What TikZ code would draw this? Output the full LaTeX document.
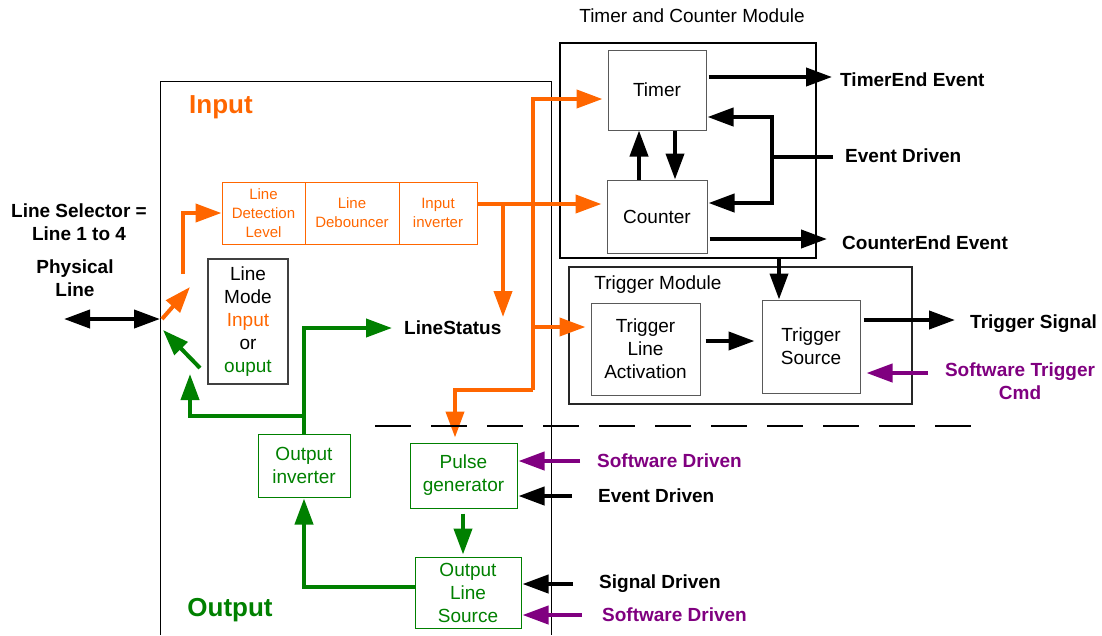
\documentclass[tikz,border=0pt]{standalone}
\usepackage{fontspec}
\setmainfont{Liberation Sans}
\usetikzlibrary{arrows.meta}
\definecolor{orng}{HTML}{FF6600}
\definecolor{grn}{HTML}{008000}
\definecolor{purp}{HTML}{800080}
\begin{document}
\begin{tikzpicture}[x=1pt,y=-1pt,
  font=\fontsize{19}{23}\selectfont,
  tip/.style={-{Triangle[length=26pt,width=18pt]}},
  conn/.style={line width=4pt, tip},
  blk/.style={conn, black},
  org/.style={conn, orng},
  gr/.style={conn, grn},
  pur/.style={conn, purp},
  box/.style={draw=black!65, line width=1pt, align=center, inner sep=0pt},
  obox/.style={draw=orng, line width=1pt, text=orng, align=center, inner sep=0pt,
    font=\fontsize{15}{19}\selectfont, minimum height=62pt},
  gbox/.style={draw=grn, line width=1pt, text=grn, align=center, inner sep=0pt},
  lbl/.style={inner sep=0pt, font=\fontsize{19}{23}\selectfont\bfseries},
  ttl/.style={inner sep=0pt, font=\fontsize{26}{30}\selectfont\bfseries}
]
\useasboundingbox (0,0) rectangle (1102,635);

% input/output panel
\draw[line width=1pt] (160,635) -- (160,81) -- (551,81) -- (551,635);

% modules
\node[draw=black, line width=2pt, minimum width=256pt, minimum height=215pt] (tcm) at (688,150.5) {};
\node[draw=black!85, line width=1.5pt, minimum width=343pt, minimum height=137pt] (trm) at (740.5,335.5) {};
\node[inner sep=0pt] (tcmT) at (692,16) {Timer and Counter Module};
\node[inner sep=0pt] (trmT) at (658,285) {Trigger Module};

% boxes
\node[box, minimum width=98pt, minimum height=80pt] (timer) at (657,90) {Timer};
\node[box, minimum width=100pt, minimum height=73pt] (counter) at (657,216.5) {Counter};
\node[box, minimum width=109pt, minimum height=92pt] (tla) at (645.5,349) {Trigger\\Line\\Activation};
\node[box, minimum width=98pt, minimum height=93pt] (ts) at (811,346.5) {Trigger\\Source};
\node[box, draw=black!75, line width=1.5pt, minimum width=80pt, minimum height=125pt] (mode) at (248,321.5)
  {Line\\Mode\\\textcolor{orng}{Input}\\or\\\textcolor{grn}{ouput}};

\node[obox, minimum width=83pt] (ldl) at (263.5,213) {Line\\Detection\\Level};
\node[obox, minimum width=94pt] (ldb) at (352,213) {Line\\Debouncer};
\node[obox, minimum width=78pt] (inv) at (438,213) {Input\\inverter};

\node[gbox, minimum width=92pt, minimum height=63pt] (outinv) at (304,465.5) {Output\\inverter};
\node[gbox, minimum width=107pt, minimum height=65pt] (pulse) at (463.5,475.5) {Pulse\\generator};
\node[gbox, minimum width=106pt, minimum height=71pt] (ols) at (468,592.5) {Output\\Line\\Source};

% labels
\node[ttl, text=orng] (inT) at (221,107) {Input};
\node[ttl, text=grn] (outT) at (230,610) {Output};
\node[lbl, align=center] (sel) at (79,222) {Line Selector =\\Line 1 to 4};
\node[lbl, align=center] (phys) at (75,278) {Physical\\Line};
\node[lbl, anchor=west] (te) at (840,80) {TimerEnd Event};
\node[lbl, anchor=west] (ed1) at (845,156) {Event Driven};
\node[lbl, anchor=west] (ce) at (842,243) {CounterEnd Event};
\node[lbl, anchor=west] (tsig) at (970,324) {Trigger Signal};
\node[lbl, align=center, text=purp] (stc) at (1020,381) {Software Trigger\\Cmd};
\node[lbl, anchor=west] (ls) at (404,328) {LineStatus};
\node[lbl, anchor=west, text=purp] (sd1) at (597,461) {Software Driven};
\node[lbl, anchor=west] (ed2) at (598,496) {Event Driven};
\node[lbl, anchor=west] (sgd) at (599,584) {Signal Driven};
\node[lbl, anchor=west, text=purp] (sd2) at (602,615) {Software Driven};

% coordinates
\coordinate (physL) at (64,319);
\coordinate (physR) at (160,319);
\coordinate (oStart) at (183,274);
\coordinate (dOa) at (162,319);
\coordinate (dOb) at (190,287);
\coordinate (dGa) at (200,368);
\coordinate (dGb) at (163,330);
\coordinate (jI) at (503,204);
\coordinate (lsTip) at (503,317);
\coordinate (busTop) at (533,99);
\coordinate (busMid) at (533,327);
\coordinate (busBot) at (533,390);
\coordinate (pgTop) at (455,390);
\coordinate (gJ) at (304,416);
\coordinate (gLt) at (190,374);
\coordinate (lsG) at (392,328);
\coordinate (teTip) at (832,77);
\coordinate (edR) at (833,157);
\coordinate (edJ) at (772,157);
\coordinate (ceTip) at (827,239);
\coordinate (tsTip) at (955,320);
\coordinate (stcS) at (928,373);
\coordinate (sd1S) at (580,461);
\coordinate (ed2S) at (572,496);
\coordinate (sgdS) at (573,584);
\coordinate (sd2S) at (582,615);

% black connectors
\draw[line width=4pt, {Triangle[length=26pt,width=18pt]}-{Triangle[length=26pt,width=18pt]}] (physL) -- (physR);
\draw[blk, shorten <=2pt] (timer.east |- teTip) -- (teTip);
\draw[line width=4pt] (edR) -- (edJ);
\draw[blk, shorten >=1pt] (edJ) |- (timer.east |- 0,117);
\draw[blk, shorten >=1pt] (edJ) |- (counter.east |- 0,203);
\draw[blk, shorten <=2pt] (counter.east |- ceTip) -- (ceTip);
\draw[blk] (counter.north -| 639,0) -- (timer.south -| 639,0);
\draw[blk] (timer.south -| 675,0) -- (counter.north -| 675,0);
\draw[blk] (tcm.south -| 779,0) -- (ts.north -| 779,0);
\draw[blk, shorten <=5pt, shorten >=7pt] (tla.east |- 0,341) -- (ts.west |- 0,341);
\draw[blk, shorten <=3pt] (ts.east |- tsTip) -- (tsTip);
\draw[pur, shorten >=6pt] (stcS) -- (ts.east |- stcS);
\draw[pur, shorten >=1pt] (sd1S) -- (pulse.east |- sd1S);
\draw[blk, shorten >=1pt] (ed2S) -- (pulse.east |- ed2S);
\draw[blk, shorten >=1pt] (sgdS) -- (ols.east |- sgdS);
\draw[pur, shorten >=1pt] (sd2S) -- (ols.east |- sd2S);

% orange connectors
\draw[org] (oStart) |- (ldl.west);
\draw[org] (dOa) -- (dOb);
\draw[org, shorten >=5pt] (inv.east |- jI) -- (counter.west |- jI);
\draw[org] (jI) -- (lsTip);
\draw[org, shorten >=5pt] (busBot) -- (busTop) -- (timer.west |- busTop);
\draw[org, shorten >=5pt] (busMid) -- (tla.west |- busMid);
\draw[org, shorten >=5pt] (busBot) -- (pgTop) -- (pulse.north -| pgTop);

% green connectors
\draw[line width=4pt, grn] (outinv.north) -- (gJ);
\draw[gr] (gJ) -| (gLt);
\draw[gr] (gJ) |- (lsG);
\draw[gr] (dGa) -- (dGb);
\draw[gr, shorten <=5pt, shorten >=2pt] (pulse.south -| 463,0) -- (ols.north -| 463,0);
\draw[gr, shorten >=1pt] (ols.west |- 0,587) -| (outinv.south);

% dashed separator
\draw[line width=2pt, dash pattern=on 36pt off 20pt] (375,426) -- (975,426);
\end{tikzpicture}
\end{document}
